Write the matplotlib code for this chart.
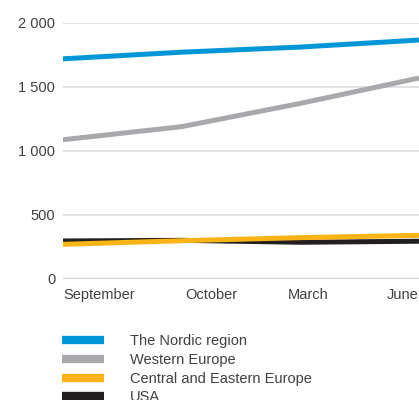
import matplotlib
matplotlib.use('Agg')
import matplotlib.pyplot as plt
from matplotlib.lines import Line2D
from matplotlib.ticker import FuncFormatter
from matplotlib.transforms import ScaledTranslation

months = ['September', 'October', 'March', 'June']
nordic = [1720, 1772, 1812, 1867]
western = [1088, 1190, 1372, 1570]
central_eastern = [271, 299, 323, 341]
usa = [297, 302, 287, 295]

series = [
  ('The Nordic region', nordic, '#0096d8'),
  ('Western Europe', western, '#a8a9ad'),
  ('Central and Eastern Europe', central_eastern, '#fbb415'),
  ('USA', usa, '#231f20'),
]
draw_order = {'USA': 2, 'Central and Eastern Europe': 3, 'Western Europe': 4, 'The Nordic region': 5}

TEXT = '#404040'
plt.rcParams['font.family'] = ['Liberation Sans', 'DejaVu Sans']
plt.rcParams['font.size'] = 10.5

fig = plt.figure(figsize=(4.19, 4.0), dpi=100)
ax = fig.add_axes([0.150, 0.3025, 0.850, 0.640])

x = list(range(len(months)))
for name, vals, color in series:
  ax.plot(x, vals, color=color, lw=3.6, solid_capstyle='butt', zorder=draw_order[name])

ax.set_xlim(0, len(months) - 1)
ax.set_ylim(0, 2000)
ax.set_yticks([0, 500, 1000, 1500, 2000])
ax.yaxis.set_major_formatter(FuncFormatter(lambda v, p: f'{int(v):,}'.replace(',', ' ')))
ax.grid(axis='y', color='#dcdcdc', lw=1.2, zorder=0)
ax.axhline(0, color='#8c8f93', lw=1.5, zorder=1)
for s in ax.spines.values():
  s.set_visible(False)
ax.tick_params(axis='both', length=0, colors=TEXT, labelsize=10.5)
ax.tick_params(axis='y', pad=5.5)
ax.tick_params(axis='x', pad=6.5)

ax.set_xticks(x)
ax.set_xticklabels(months)
# the labels sit a bit off their points in the original
shifts = [(0, 'left'), (30, 'center'), (8, 'center'), (0, 'right')]
for lab, (dx, ha) in zip(ax.get_xticklabels(), shifts):
  lab.set_ha(ha)
  lab.set_transform(lab.get_transform() + ScaledTranslation(dx / 100, 0, fig.dpi_scale_trans))

handles = [Line2D([], [], color=c, lw=6, solid_capstyle='butt') for _, _, c in series]
fig.legend(handles, [n for n, _, _ in series], loc='upper left',
           bbox_to_anchor=(0.149, 0.165), frameon=False, handlelength=2.85,
           handletextpad=1.75, labelspacing=0.33, fontsize=10.5, labelcolor=TEXT,
           borderaxespad=0, borderpad=0)

fig.savefig('out.png', dpi=100)
